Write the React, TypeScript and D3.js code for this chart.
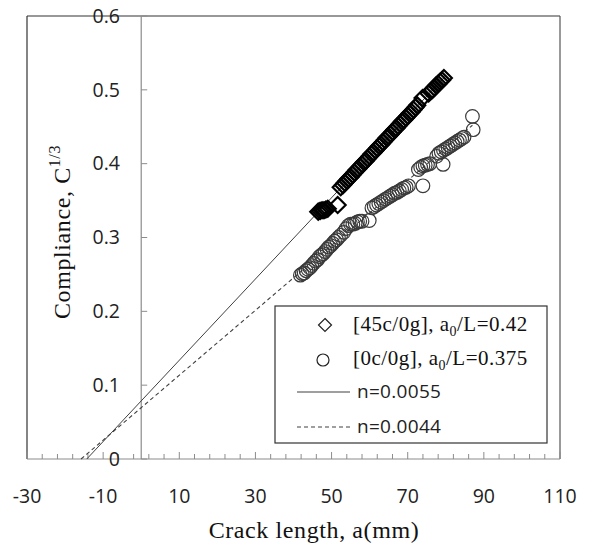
import React from "react";
import * as d3 from "d3";

// ---- data ----
const diamondA = [46.5, 47.0, 47.5, 48.0, 48.5, 49.0, 51.6,
  52.4, 53.0, 53.5, 54.0, 54.5, 55.0, 55.5, 56.0, 56.5, 57.0, 57.5, 58.0, 58.5, 59.0, 59.5,
  60.0, 60.5, 61.0, 61.5, 62.0, 62.5, 63.0, 63.5, 64.0, 64.5, 65.0, 65.5, 66.0, 66.5, 67.0,
  67.5, 68.0, 68.5, 69.0, 69.5, 70.0, 70.5, 71.0, 71.5, 72.0, 72.5, 73.9,
  75.5, 76.0, 76.5, 77.0, 77.5, 78.0, 78.5, 79.0, 79.5];
const diamondC = [0.335, 0.336, 0.337, 0.337, 0.338, 0.339, 0.344,
  0.368, 0.371, 0.374, 0.377, 0.380, 0.382, 0.385, 0.388, 0.391, 0.393, 0.396, 0.399, 0.402, 0.404, 0.407,
  0.410, 0.413, 0.415, 0.418, 0.421, 0.424, 0.426, 0.429, 0.432, 0.435, 0.437, 0.440, 0.443, 0.446, 0.448,
  0.451, 0.454, 0.457, 0.459, 0.462, 0.465, 0.468, 0.470, 0.473, 0.476, 0.479, 0.489,
  0.495, 0.498, 0.500, 0.503, 0.506, 0.508, 0.511, 0.513, 0.516];

const circleA = [41.8, 42.3, 42.8, 43.3, 43.8, 44.3, 44.8, 45.3, 45.8, 46.3, 46.8, 47.3, 47.8, 48.3,
  48.8, 49.3, 49.8, 50.3, 50.8, 51.3, 51.8, 52.4,
  53.2, 53.8, 54.4, 55.0, 55.6, 56.2, 56.8, 57.4, 58.0, 59.9,
  60.6, 61.2, 61.8, 62.4, 63.0, 63.6, 64.2, 64.8, 65.4, 66.0, 66.6, 67.2, 67.8, 68.4, 69.0, 69.6, 70.2,
  74.0, 72.8, 73.4, 74.0, 74.6, 75.2, 75.8, 79.3,
  77.6, 78.2, 78.8, 79.4, 80.0, 80.6, 81.2, 81.8, 82.4, 83.0, 83.6, 84.2, 84.8, 87.2, 87.0];
const circleC = [0.249, 0.251, 0.252, 0.255, 0.257, 0.259, 0.262, 0.265, 0.268, 0.270, 0.274, 0.276, 0.278, 0.281,
  0.284, 0.287, 0.289, 0.292, 0.295, 0.297, 0.300, 0.303,
  0.307, 0.312, 0.316, 0.318, 0.318, 0.319, 0.321, 0.322, 0.322, 0.323,
  0.340, 0.342, 0.344, 0.346, 0.348, 0.350, 0.352, 0.354, 0.356, 0.358, 0.360, 0.361, 0.363, 0.365, 0.367, 0.368, 0.370,
  0.370, 0.392, 0.395, 0.397, 0.398, 0.399, 0.400, 0.399,
  0.410, 0.414, 0.416, 0.418, 0.420, 0.422, 0.424, 0.426, 0.428, 0.430, 0.432, 0.434, 0.436, 0.446, 0.464];

const fitSolidA = [-14.3, 80];
const fitSolidC = [0, 0.519];
const fitDashA = [-15.8, 87];
const fitDashC = [0, 0.452];

const xTickLabels = [-30, -10, 10, 30, 50, 70, 90, 110];
const yTickLabels = [0, 0.1, 0.2, 0.3, 0.4, 0.5, 0.6];
const legendLabels = ["[45c/0g], a", "[0c/0g], a"];
const legendSuffix = ["/L=0.42", "/L=0.375"];
const lineLabels = ["n=0.0055", "n=0.0044"];

export default function App() {
  const x = d3.scaleLinear().domain([-30, 110]).range([27, 560]);
  const y = d3.scaleLinear().domain([0, 0.6]).range([459, 16]);
  const minorX = d3.range(-30, 110.01, 4);
  const majorX = d3.range(-30, 110.01, 20);
  const line = d3.line<[number, number]>().x(d => x(d[0])).y(d => y(d[1]));
  const solidPts = fitSolidA.map((a, i) => [a, fitSolidC[i]] as [number, number]);
  const dashPts = fitDashA.map((a, i) => [a, fitDashC[i]] as [number, number]);
  const diamondPath = (r: number) => `M0,${-r}L${r},0L0,${r}L${-r},0Z`;
  const sans = "'Open Sans', sans-serif";
  const serif = "'Liberation Serif', 'Times New Roman', serif";
  const x0 = x(0);

  return (
    <svg width={589} height={545} style={{ position: "absolute", left: 0, top: 0, background: "#fff" }}>
      <rect x={0} y={0} width={589} height={545} fill="#fff" />
      {/* frame */}
      <line x1={27} y1={16} x2={560} y2={16} stroke="#333" strokeWidth={1.2} />
      <line x1={27} y1={16} x2={27} y2={459} stroke="#333" strokeWidth={1.2} />
      <line x1={560} y1={16} x2={560} y2={459} stroke="#555" strokeWidth={1.2} />
      {/* axes */}
      <line x1={x0} y1={16} x2={x0} y2={459} stroke="#8c8c8c" strokeWidth={1.2} />
      <line x1={27} y1={y(0)} x2={560} y2={y(0)} stroke="#8c8c8c" strokeWidth={1.2} />
      {minorX.map(v => (
        <line key={"mx" + v} x1={x(v)} x2={x(v)} y1={y(0)} y2={y(0) - (majorX.includes(v) ? 7 : 5)} stroke="#8c8c8c" strokeWidth={1} />
      ))}
      {yTickLabels.map(v => (
        <line key={"yt" + v} x1={x0} x2={x0 + 6} y1={y(v)} y2={y(v)} stroke="#8c8c8c" strokeWidth={1} />
      ))}
      {yTickLabels.map(v => (
        <text key={"yl" + v} x={120} y={y(v)} dy="0.35em" textAnchor="end" fontFamily={sans} fontSize={19.5} fill="#222">{String(v)}</text>
      ))}
      {xTickLabels.map(v => (
        <text key={"xl" + v} x={x(v)} y={503} textAnchor="middle" fontFamily={sans} fontSize={19.5} fill="#222">{String(v)}</text>
      ))}
      {/* titles */}
      <text x={314} y={538} textAnchor="middle" fontFamily={serif} fontSize={24} letterSpacing={0.6} fill="#111">Crack length, a(mm)</text>
      <text transform={`translate(70,232) rotate(-90)`} textAnchor="middle" fontFamily={serif} fontSize={24} letterSpacing={0.6} fill="#111">
        Compliance, C<tspan dy={-10} fontSize={16}>1/3</tspan>
      </text>
      {/* fit lines */}
      <path d={line(solidPts) || ""} fill="none" stroke="#404040" strokeWidth={1} />
      <path d={line(dashPts) || ""} fill="none" stroke="#404040" strokeWidth={1.1} strokeDasharray="4,3" />
      {/* data */}
      {circleA.map((a, i) => (
        <circle key={"c" + i} cx={x(a)} cy={y(circleC[i])} r={6.8} fill="none" stroke="#3a3a3a" strokeWidth={1.2} />
      ))}
      {diamondA.map((a, i) => (
        <path key={"d" + i} transform={`translate(${x(a)},${y(diamondC[i])})`} d={diamondPath(8)} fill="none" stroke="#000" strokeWidth={2.2} />
      ))}
      {/* legend */}
      <rect x={275} y={306} width={272} height={137} fill="#fff" stroke="#333" strokeWidth={1.2} />
      <path transform="translate(325,325)" d={diamondPath(6.5)} fill="none" stroke="#222" strokeWidth={1.2} />
      <circle cx={323} cy={360} r={6} fill="none" stroke="#222" strokeWidth={1.2} />
      {legendLabels.map((l, i) => (
        <text key={"lg" + i} x={353} y={331 + i * 34} fontFamily={serif} fontSize={21} letterSpacing={0.5} fill="#111">
          {l}<tspan dy={5} fontSize={14}>0</tspan><tspan dy={-5}>{legendSuffix[i]}</tspan>
        </text>
      ))}
      <line x1={297} x2={350} y1={392} y2={392} stroke="#404040" strokeWidth={1.2} />
      <line x1={297} x2={350} y1={427} y2={427} stroke="#404040" strokeWidth={1.2} strokeDasharray="4,3" />
      {lineLabels.map((l, i) => (
        <text key={"ll" + i} x={357} y={398 + i * 35} fontFamily={sans} fontSize={19} letterSpacing={0.3} fill="#222">{l}</text>
      ))}
    </svg>
  );
}
